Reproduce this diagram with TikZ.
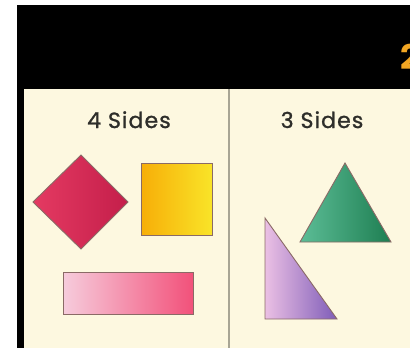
\documentclass[tikz,border=0pt]{standalone}
\usepackage{fontspec}
\setmainfont{Poppins}
\newfontfamily\headfont{Poppins}[FakeBold=1.2, LetterSpace=5]
\usepackage{xcolor}
\definecolor{PanelCream}{HTML}{FDF8E0}
\definecolor{InkGrey}{HTML}{2E2E2A}
\definecolor{EdgeBrown}{HTML}{8A6A66}
\definecolor{DivideGrey}{HTML}{A8A594}
\definecolor{CrimsonL}{HTML}{E43A62}
\definecolor{CrimsonR}{HTML}{C41E4A}
\definecolor{AmberL}{HTML}{F7AE08}
\definecolor{AmberR}{HTML}{F9E428}
\definecolor{BlushL}{HTML}{F6CCDC}
\definecolor{BlushR}{HTML}{F2517A}
\definecolor{JadeL}{HTML}{5CBD96}
\definecolor{JadeR}{HTML}{1E7E52}
\definecolor{LilacL}{HTML}{EBC0E4}
\definecolor{LilacR}{HTML}{7E5CB8}
\definecolor{TitleAmber}{HTML}{F2A623}
\usepackage{tikz}
\usetikzlibrary{positioning}
\tikzstyle{heading} = [text=InkGrey, font=\headfont\fontsize{22}{26}\selectfont, inner sep=0pt, anchor=base]
\tikzstyle{figline} = [draw=EdgeBrown, line width=0.9pt, line join=miter]

\begin{document}
\begin{tikzpicture}[x=1pt, y=-1pt]
        \useasboundingbox (0,0) rectangle (410,348);
        % black header band and left edge
        \fill[black] (17,5) rectangle (410,89);
        \fill[black] (17,89) rectangle (24,348);
        \fill[PanelCream] (24,89) rectangle (410,348);
        \node[text=TitleAmber, font=\fontsize{34}{38}\selectfont\bfseries, anchor=base west, inner sep=0pt] (titlecut) at (400,69) {2};
        \draw[DivideGrey, line width=1.6pt] (229,89) -- (229,348);

        \node[heading] (four) at (129,128) {4 Sides};
        \node[heading] (three) at (322,128) {3 Sides};

        % four sides
        \shade[figline, left color=CrimsonL, right color=CrimsonR] (33,202) -- (81,155) -- (128,202) -- (81,249) -- cycle;
        \shade[figline, left color=AmberL, right color=AmberR] (141,163) rectangle (212,235);
        \shade[figline, left color=BlushL, right color=BlushR] (63,272) rectangle (193,314);

        % three sides
        \shade[figline, left color=JadeL, right color=JadeR] (345,163) -- (391,242) -- (300,242) -- cycle;
        \shade[figline, left color=LilacL, right color=LilacR] (265,218) -- (337,319) -- (265,319) -- cycle;
    \end{tikzpicture}
\end{document}
